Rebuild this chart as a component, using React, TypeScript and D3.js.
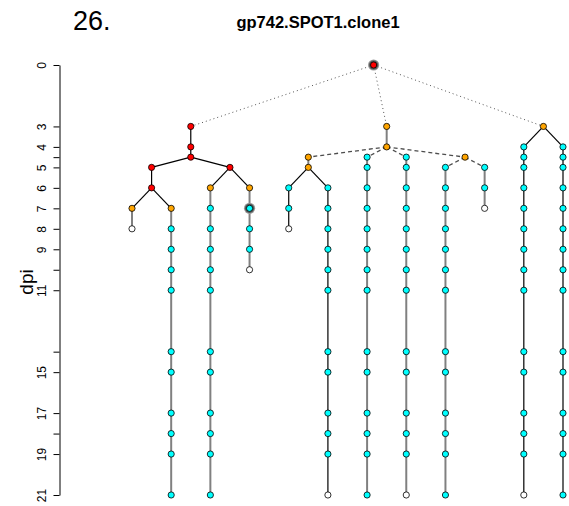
import React, { useRef, useEffect } from 'react';
import * as d3 from 'd3';

const WIDTH = 569;
const HEIGHT = 506;
const FONT = '"Liberation Sans", Arial, Helvetica, sans-serif';

// dpi values that get a tick, and the ones R kept a label for
const axisTicks = [0, 3, 4, 4.5, 5, 6, 7, 8, 9, 10, 11, 14, 15, 17, 18, 19, 21];
const axisLabels = [0, 3, 4, 5, 6, 7, 8, 9, 11, 15, 17, 19, 21];

const stateColors: Record<string, string> = { r: '#ff0000', o: '#ffa500', c: '#00ffff', w: '#ffffff' };

// branch points: id, parent, dpi, state, edge to parent
const branchNodes: [string, string, number, string, string][] = [
  ['root', '', 0, 'r', ''],
  ['A', 'root', 3, 'r', 'dot'],
  ['A1', 'A', 4, 'r', 'black'],
  ['A2', 'A1', 4.5, 'r', 'black'],
  ['A3', 'A2', 5, 'r', 'black'],
  ['A5', 'A3', 6, 'r', 'black'],
  ['A4', 'A2', 5, 'r', 'black'],
  ['B', 'root', 3, 'o', 'dot'],
  ['B1', 'B', 4, 'o', 'gray'],
  ['B2', 'B1', 4.5, 'o', 'dash'],
  ['B3', 'B2', 5, 'o', 'gray'],
  ['B4', 'B1', 4.5, 'o', 'dash'],
  ['C', 'root', 3, 'o', 'dot'],
];

// lineages (one per column): first edge style, chain style, sampled dpi, state per sample
const lineages = [
  { col: 0, parent: 'A5', edge: 'black', line: 'gray', dpi: [7, 8], states: 'ow' },
  { col: 1, parent: 'A5', edge: 'black', line: 'gray', dpi: [7, 8, 9, 10, 11, 14, 15, 17, 18, 19, 21], states: 'occcccccccc' },
  { col: 2, parent: 'A4', edge: 'black', line: 'gray', dpi: [6, 7, 8, 9, 10, 11, 14, 15, 17, 18, 19, 21], states: 'occccccccccc' },
  { col: 3, parent: 'A4', edge: 'black', line: 'gray', dpi: [6, 7, 8, 9, 10], states: 'occcw' },
  { col: 4, parent: 'B3', edge: 'black', line: 'black', dpi: [6, 7, 8], states: 'ccw' },
  { col: 5, parent: 'B3', edge: 'black', line: 'black', dpi: [6, 7, 8, 9, 10, 11, 14, 15, 17, 18, 19, 21], states: 'cccccccccccw' },
  { col: 6, parent: 'B1', edge: 'dash', line: 'gray', dpi: [4.5, 5, 6, 7, 8, 9, 10, 11, 14, 15, 17, 18, 19, 21], states: 'cccccccccccccc' },
  { col: 7, parent: 'B1', edge: 'dash', line: 'gray', dpi: [4.5, 5, 6, 7, 8, 9, 10, 11, 14, 15, 17, 18, 19, 21], states: 'cccccccccccccw' },
  { col: 8, parent: 'B4', edge: 'dash', line: 'gray', dpi: [5, 6, 7, 8, 9, 10, 11, 14, 15, 17, 18, 19, 21], states: 'ccccccccccccc' },
  { col: 9, parent: 'B4', edge: 'dash', line: 'gray', dpi: [5, 6, 7], states: 'ccw' },
  { col: 10, parent: 'C', edge: 'black', line: 'black', dpi: [4, 4.5, 5, 6, 7, 8, 9, 10, 11, 14, 15, 17, 18, 19, 21], states: 'ccccccccccccccw' },
  { col: 11, parent: 'C', edge: 'black', line: 'black', dpi: [4, 4.5, 5, 6, 7, 8, 9, 10, 11, 14, 15, 17, 18, 19, 21], states: 'ccccccccccccccc' },
];

// nodes drawn with a grey halo
const highlighted = ['root', 'L3-7'];

const edgeStyles: Record<string, { stroke: string; width: number; dash: string | null }> = {
  black: { stroke: '#000000', width: 1.2, dash: null },
  gray: { stroke: '#808080', width: 2, dash: null },
  dash: { stroke: '#4d4d4d', width: 1.3, dash: '4,3' },
  dot: { stroke: '#555555', width: 1, dash: '1,3' },
};

export default function App() {
  const svgRef = useRef<SVGSVGElement>(null);

  useEffect(() => {
    const svg = d3.select(svgRef.current);
    svg.selectAll('*').remove();

    const rows = [
      ...branchNodes.map(([id, parent, dpi, state, edge]) => ({ id, parentId: parent || null, dpi, state, edge, col: -1 })),
      ...lineages.flatMap(l => l.dpi.map((d, i) => ({
        id: `L${l.col}-${d}`,
        parentId: i === 0 ? l.parent : `L${l.col}-${l.dpi[i - 1]}`,
        dpi: d,
        state: l.states[i] || 'c',
        edge: i === 0 ? l.edge : l.line,
        col: l.col,
      }))),
    ];

    const root: any = d3.stratify<any>().id(d => d.id).parentId(d => d.parentId)(rows);

    const xScale = d3.scaleLinear().domain([0, 11]).range([132, 563]);
    const yScale = d3.scaleLinear().domain([0, 21]).range([65, 495]);

    // parent x = mean of its children (leaves sit on their column)
    root.eachAfter((n: any) => {
      n.x = n.children ? d3.mean(n.children, (c: any) => c.x) : xScale(n.data.col);
      n.y = yScale(n.data.dpi);
    });

    // title
    svg.append('text')
      .attr('x', 73).attr('y', 29.5)
      .style('font-family', FONT).style('font-size', '27px')
      .text('26.');
    svg.append('text')
      .attr('x', 318).attr('y', 28)
      .attr('text-anchor', 'middle')
      .style('font-family', FONT).style('font-size', '16.5px').style('font-weight', 'bold')
      .text('gp742.SPOT1.clone1');

    // y axis
    const axis = d3.axisLeft(yScale)
      .tickValues(axisTicks)
      .tickSizeInner(6)
      .tickSizeOuter(0)
      .tickFormat((d: any) => (axisLabels.includes(+d) ? String(d) : ''));

    const gAxis = svg.append('g')
      .attr('transform', 'translate(59.5,0)')
      .call(axis);
    gAxis.select('.domain').attr('stroke', '#000');
    gAxis.selectAll('line').attr('stroke', '#000');
    gAxis.selectAll('text')
      .attr('x', null).attr('dy', null)
      .attr('text-anchor', 'middle')
      .attr('transform', 'translate(-14,0) rotate(-90)')
      .attr('fill', '#000')
      .style('font-family', FONT).style('font-size', '12px');

    svg.append('text')
      .attr('transform', 'translate(33,282) rotate(-90)')
      .attr('text-anchor', 'middle')
      .style('font-family', FONT).style('font-size', '19px')
      .text('dpi');

    // edges
    const links = root.links();
    svg.append('g')
      .selectAll('line')
      .data(links)
      .enter()
      .append('line')
      .attr('x1', (d: any) => d.source.x)
      .attr('y1', (d: any) => d.source.y)
      .attr('x2', (d: any) => d.target.x)
      .attr('y2', (d: any) => d.target.y)
      .attr('stroke', (d: any) => edgeStyles[d.target.data.edge].stroke)
      .attr('stroke-width', (d: any) => edgeStyles[d.target.data.edge].width)
      .attr('stroke-dasharray', (d: any) => edgeStyles[d.target.data.edge].dash);

    const nodes = root.descendants();

    // halos
    const haloNodes = nodes.filter((n: any) => highlighted.includes(n.data.id));
    svg.append('g').selectAll('circle').data(haloNodes).enter().append('circle')
      .attr('cx', (d: any) => d.x).attr('cy', (d: any) => d.y)
      .attr('r', 5.6).attr('fill', '#9a9a9a');
    svg.append('g').selectAll('circle').data(haloNodes).enter().append('circle')
      .attr('cx', (d: any) => d.x).attr('cy', (d: any) => d.y)
      .attr('r', 4.6).attr('fill', '#555555');

    // nodes
    svg.append('g')
      .selectAll('circle')
      .data(nodes)
      .enter()
      .append('circle')
      .attr('cx', (d: any) => d.x)
      .attr('cy', (d: any) => d.y)
      .attr('r', 3.1)
      .attr('fill', (d: any) => stateColors[d.data.state])
      .attr('stroke', '#000')
      .attr('stroke-width', 0.8);
  }, []);

  return (
    <div style={{ position: 'absolute', left: 0, top: 0, width: WIDTH, height: HEIGHT, background: '#fff' }}>
      <svg ref={svgRef} width={WIDTH} height={HEIGHT} />
    </div>
  );
}
